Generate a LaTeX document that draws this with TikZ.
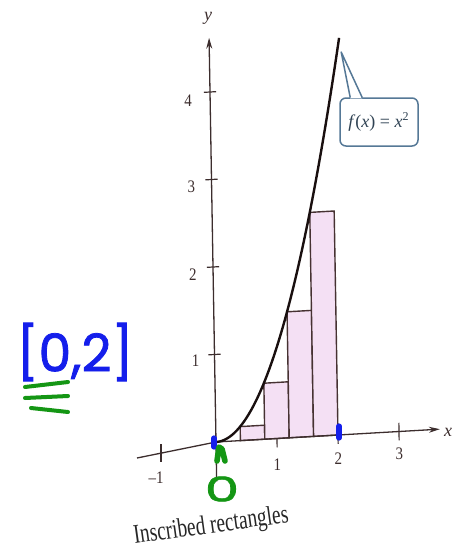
\documentclass[tikz,border=0pt]{standalone}
\usepackage{fontspec}
\setmainfont{Liberation Serif}
\newfontfamily\handfont[FakeBold=1.5]{Poppins}
\usetikzlibrary{arrows.meta,calc}
\definecolor{axiscol}{RGB}{60,45,45}
\definecolor{curvecol}{RGB}{25,15,15}
\definecolor{rectfill}{RGB}{244,224,244}
\definecolor{rectline}{RGB}{70,50,50}
\definecolor{calloutcol}{RGB}{85,120,150}
\definecolor{penblue}{RGB}{20,30,235}
\definecolor{pengreen}{RGB}{20,150,20}
\tikzset{
  axisline/.style={draw=axiscol, line width=0.65pt},
  tickline/.style={draw=axiscol, line width=0.6pt},
  rectbox/.style={fill=rectfill, draw=rectline, line width=0.7pt, line join=miter},
  curveline/.style={draw=curvecol, line width=1.2pt},
  ticklabel/.style={font=\fontsize{8.8}{10}\selectfont, inner sep=0pt, text=axiscol, xscale=0.85},
  axislabel/.style={font=\fontsize{9}{10}\selectfont\itshape, inner sep=0pt, text=axiscol},
  captionlabel/.style={font=\fontsize{13.5}{15}\selectfont, inner sep=0pt, text=black!85},
  calloutbox/.style={draw=calloutcol, line width=0.75pt, fill=white, rounded corners=3pt,
    minimum width=39pt, minimum height=24pt, inner sep=0pt,
    font=\fontsize{9}{10}\selectfont, text=calloutcol!55!black},
  penstroke/.style={line width=2pt, line cap=round, line join=round},
  handblue/.style={font=\handfont\fontsize{26}{26}\selectfont, text=penblue, inner sep=0pt},
  handgreen/.style={font=\handfont\fontsize{17}{17}\selectfont, text=pengreen, inner sep=0pt},
}
\begin{document}
\begin{tikzpicture}[x=0.5pt,y=-0.5pt]
\useasboundingbox (0,0) rectangle (454,546);
% left part of x-axis (page curvature)
\draw[axisline] (137,458) -- (216,442);
\draw[tickline] (161,444) -- (161,462);
\node[ticklabel] (lm1) at (156,478) {--1};
\begin{scope}[shift={(216,442)}, x={(30.5pt,1.75pt)}, y={(-0.75pt,43.75pt)}]
  \coordinate (O) at (0,0);
  \coordinate (xend) at (3.67,0);
  \coordinate (ybot) at (0,-0.45);
  \coordinate (yend) at (0,4.62);
  % ticks
  \foreach \k in {1,2,3} \draw[tickline] (\k,-0.1) -- (\k,0.1);
  \foreach \k in {1,2,3,4} \draw[tickline] (-0.1,\k) -- (0.1,\k);
  % rectangles
  \foreach \a in {0.4,0.8,1.2,1.6}
    \filldraw[rectbox] (\a,0) -- ({\a+0.4},0) -- ({\a+0.4},{\a*\a}) -- (\a,{\a*\a}) -- cycle;
  % axes
  \draw[axisline, -{Stealth[length=5.5pt,width=3pt]}] (O) -- (xend);
  \draw[axisline, -{Stealth[length=5.5pt,width=3pt]}] (ybot) -- (yend);
  % curve
  \draw[curveline] plot[domain=0:2.13, samples=60, smooth] (\x,{\x*\x});
  % labels
  \node[ticklabel] (l1) at (1,-0.3) {1};
  \node[ticklabel] (l2) at (2,-0.27) {2};
  \node[ticklabel] (l3) at (3,-0.26) {3};
  \node[ticklabel] (ly1) at (-0.31,0.94) {1};
  \node[ticklabel] (ly2) at (-0.33,1.93) {2};
  \node[ticklabel] (ly3) at (-0.33,2.93) {3};
  \node[ticklabel] (ly4) at (-0.36,3.92) {4};
  \coordinate (tip) at (2.16,4.37);
\end{scope}
\node[axislabel] (xl) at (448,432) {x};
\node[axislabel] (yl) at (208,18) {y};
% callout
\node[calloutbox] (flabel) at (379,122) {\textit{f}(\textit{x}) = \textit{x}\textsuperscript{2}};
\fill[white] ($(flabel.north west)+(11,1.2)$) -- (tip) -- ($(flabel.north west)+(23,1.2)$) -- cycle;
\draw[calloutcol, line width=0.75pt, line join=round] ($(flabel.north west)+(11,0.4)$) -- (tip) -- ($(flabel.north west)+(23,0.4)$);
% caption
\node[captionlabel, anchor=base, rotate=8, xscale=0.72] (cap) at (212,533) {Inscribed rectangles};
% handwritten annotations
\node[handblue] (interval) at (75,352) {[0,2]};
\draw[pengreen, penstroke] (25,387) -- (68,382);
\draw[pengreen, penstroke] (25,398) -- (68,396);
\draw[pengreen, penstroke] (31,408) -- (68,412);
\draw[penblue, penstroke, line width=2.6pt] (214,438) -- (214,447);
\draw[penblue, penstroke, line width=2.6pt] (339,426) -- (339,438);
\draw[pengreen, penstroke, line width=2.8pt] (217,461) -- (219,447) -- (222,449) -- (225,461);
\node[handgreen, xscale=1.6] (zero) at (222,489) {0};
\end{tikzpicture}
\end{document}
